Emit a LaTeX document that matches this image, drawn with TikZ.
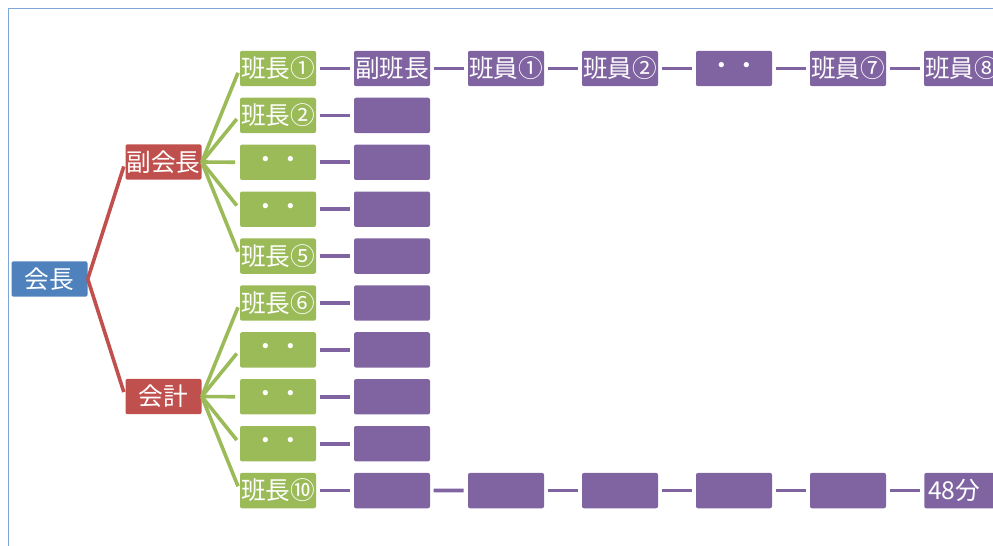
\documentclass[tikz,border=0pt]{standalone}
\usepackage{fontspec}
\setmainfont{Noto Sans CJK JP}
\definecolor{cblue}{HTML}{4F81BD}
\definecolor{cred}{HTML}{C0504D}
\definecolor{cgreen}{HTML}{9BBB59}
\definecolor{cpurple}{HTML}{8064A2}
\definecolor{cframe}{HTML}{7FA6D8}
\begin{document}
\begin{tikzpicture}[x=0.75pt,y=-0.75pt,
  box/.style={minimum width=57pt, minimum height=26.5pt, inner sep=0pt, rounded corners=1.5pt, text=white, font=\fontsize{18.5}{19}\selectfont},
  bluebox/.style={box, fill=cblue},
  redbox/.style={box, fill=cred},
  greenbox/.style={box, fill=cgreen},
  purplebox/.style={box, fill=cpurple},
  redline/.style={draw=cred, line width=2.7pt, shorten >=3.5pt},
  greenline/.style={draw=cgreen, line width=2.7pt, shorten >=3.5pt},
  purpleline/.style={draw=cpurple, line width=2.8pt, shorten >=3pt, shorten <=2.5pt}]
\useasboundingbox (0,0) rectangle (993,546);
\clip (0,0) rectangle (993,546);
\draw[cframe, line width=1.1pt] (8.5,560) -- (8.5,8.5) -- (1010,8.5);

\node[bluebox] (kaicho) at (49.5,279) {会長};
\node[redbox] (fuku) at (163.5,162) {副会長};
\node[redbox] (kaikei) at (163.5,396.5) {会計};
\draw[redline] (kaicho.east) -- (fuku.west);
\draw[redline] (kaicho.east) -- (kaikei.west);

\foreach \i/\t in {1/班長①,2/班長②,3/・・,4/・・,5/班長⑤,6/班長⑥,7/・・,8/・・,9/・・,10/班長⑩}{
  \node[greenbox] (g\i) at (278,{68.5+46.9*(\i-1)}) {\t};
  \node[purplebox] (p\i-1) at (392,{68.5+46.9*(\i-1)}) {\ifnum\i=1 副班長\fi};
  \draw[purpleline] (g\i.east) -- (p\i-1.west);
}
\foreach \i in {1,...,5}{\draw[greenline] (fuku.east) -- (g\i.west);}
\foreach \i in {6,...,10}{\draw[greenline] (kaikei.east) -- (g\i.west);}

\foreach \c/\t [remember=\c as \pc (initially 1)] in {2/班員①,3/班員②,4/・・,5/班員⑦,6/班員⑧}{
  \node[purplebox] (p1-\c) at ({392+114*(\c-1)},68.5) {\t};
  \draw[purpleline] (p1-\pc.east) -- (p1-\c.west);
}
\foreach \c [remember=\c as \pc (initially 1)] in {2,...,5}{
  \node[purplebox] (p10-\c) at ({392+114*(\c-1)},490.6) {};
  \draw[purpleline] (p10-\pc.east) -- (p10-\c.west);
}
\node[purplebox, anchor=west, text width=68pt, align=left, inner xsep=3pt] (p10-6) at (924,490.6) {48分};
\draw[purpleline] (p10-5.east) -- (p10-6.west);
\end{tikzpicture}
\end{document}
